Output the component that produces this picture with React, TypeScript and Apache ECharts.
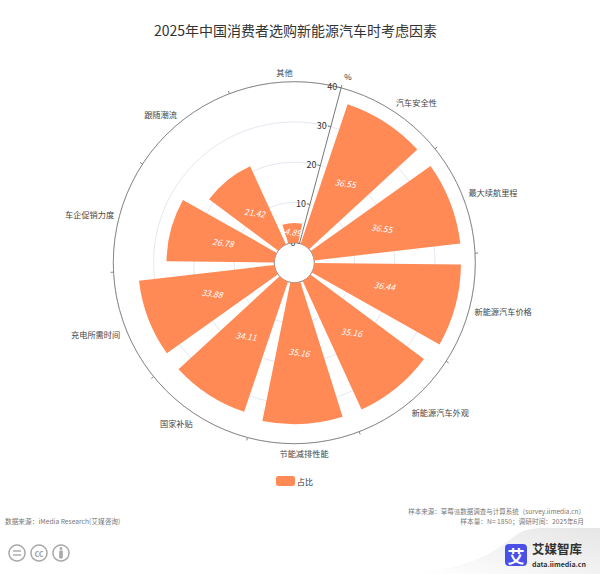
import React, { useEffect, useRef } from "react";
import * as echarts from "echarts";

const TITLE = "2025年中国消费者选购新能源汽车时考虑因素";
const categories = ["汽车安全性", "最大续航里程", "新能源汽车价格", "新能源汽车外观", "节能减排性能", "国家补贴", "充电所需时间", "车企促销力度", "跟随潮流", "其他"];
const values = [36.55, 36.55, 36.44, 35.16, 35.16, 34.11, 33.88, 26.78, 21.42, 4.89];
const SERIES_NAME = "占比";
const FONT = '"Noto Sans CJK SC", "Noto Sans", sans-serif';
const ORANGE = "#FF8A56";

echarts.graphic.registerShape(
  "wave",
  echarts.graphic.extendPath("M415 574 C 470 566 490 556 512 538 C 522 530 530 528 545 528 L 600 528 L 600 574 Z", {})
);

export default function App() {
  const ref = useRef<HTMLDivElement>(null);
  useEffect(() => {
    const chart = echarts.init(ref.current!, undefined, { renderer: "svg" });
    const grey = "#a8a8a8";
    const footer = (x: number, y: number, text: string, align: string, size = 6.5) => ({
      type: "text", x, y,
      style: { text, fill: "#777", font: `${size}px ${FONT}`, align, verticalAlign: "middle" },
    });
    chart.setOption({
      animation: false,
      backgroundColor: "#fff",
      title: {
        text: TITLE, left: 290.5, top: 18, textAlign: "center",
        textStyle: { fontFamily: FONT, fontSize: 14, fontWeight: "normal", color: "#333" },
      },
      legend: {
        data: [SERIES_NAME], left: 271, top: 471, itemWidth: 19, itemHeight: 10, itemGap: 4,
        icon: "roundRect",
        textStyle: { fontFamily: FONT, fontSize: 8, color: "#333", padding: [0, 0, 0, -3] },
      },
      polar: { center: [294.3, 262.7], radius: [20, 181] },
      angleAxis: {
        type: "category", data: categories, startAngle: 75,
        axisLine: { lineStyle: { color: "#888", width: 1 } },
        axisTick: { show: true, length: 3, lineStyle: { color: "#888" } },
        splitLine: { show: false },
        axisLabel: { fontFamily: FONT, fontSize: 8.2, color: "#444", margin: 5.5 },
      },
      radiusAxis: {
        min: 0, max: 40, interval: 10, name: "%", nameLocation: "end", nameGap: 12,
        nameTextStyle: { fontFamily: FONT, fontSize: 8, color: "#333" },
        axisLine: { show: true, lineStyle: { color: "#777", width: 1 } },
        axisTick: { show: true, length: 3, lineStyle: { color: "#777" } },
        axisLabel: { fontFamily: FONT, fontSize: 9, color: "#333", margin: 4 },
        splitLine: { show: true, lineStyle: { color: "#e3e8f0", width: 1 } },
      },
      series: [{
        name: SERIES_NAME, type: "bar", coordinateSystem: "polar", data: values,
        barCategoryGap: "20%",
        itemStyle: { color: ORANGE },
        label: {
          show: true, position: "middle", rotate: -0.13, color: "#fff", fontStyle: "italic",
          fontFamily: FONT, fontSize: 8.5, formatter: "{c}", offset: [0, -1.5],
        },
      }],
      graphic: [
        footer(585, 511, "样本来源：草莓派数据调查与计算系统（survey.iimedia.cn）", "right"),
        footer(584, 521, "样本量：N= 1850；调研时间：2025年6月", "right", 6.7),
        footer(5, 521, "数据来源：iMedia Research(艾媒咨询)", "left", 6.7),
        { type: "wave", z: -1, style: { fill: new echarts.graphic.LinearGradient(0, 1, 1, 0, [
          { offset: 0, color: "#ffffff" }, { offset: 1, color: "#e6e6e6" },
        ]) } },
        { type: "circle", shape: { cx: 17, cy: 553, r: 8 }, style: { fill: "#fff", stroke: grey, lineWidth: 1.5 } },
        { type: "line", shape: { x1: 13, y1: 551, x2: 21, y2: 551 }, style: { stroke: grey, lineWidth: 1.4 } },
        { type: "line", shape: { x1: 13, y1: 555, x2: 21, y2: 555 }, style: { stroke: grey, lineWidth: 1.4 } },
        { type: "circle", shape: { cx: 39, cy: 553, r: 8 }, style: { fill: "#fff", stroke: grey, lineWidth: 1.5 } },
        { type: "text", x: 39, y: 553, style: { text: "cc", fill: grey, font: `bold 9px ${FONT}`, align: "center", verticalAlign: "middle" } },
        { type: "circle", shape: { cx: 61, cy: 553, r: 8 }, style: { fill: "#fff", stroke: grey, lineWidth: 1.5 } },
        { type: "circle", shape: { cx: 61, cy: 548.5, r: 1.4 }, style: { fill: grey } },
        { type: "rect", shape: { x: 59.2, y: 550.5, width: 3.6, height: 8, r: 1 }, style: { fill: grey } },
        { type: "rect", shape: { x: 505, y: 544, width: 22, height: 22, r: 4 }, style: { fill: "#4A4FE8" } },
        { type: "text", x: 516, y: 555, style: { text: "艾", fill: "#fff", font: `bold 17px ${FONT}`, align: "center", verticalAlign: "middle" } },
        { type: "text", x: 532, y: 548, style: { text: "艾媒智库", fill: "#333", font: `bold 12.5px ${FONT}`, align: "left", verticalAlign: "middle" } },
        { type: "text", x: 532, y: 563.5, style: { text: "data.iimedia.cn", fill: "#333", font: `bold 7px ${FONT}`, align: "left", verticalAlign: "middle" } },
      ],
    });
    return () => chart.dispose();
  }, []);
  return <div ref={ref} style={{ position: "fixed", left: 0, top: 0, width: 600, height: 574 }} />;
}
